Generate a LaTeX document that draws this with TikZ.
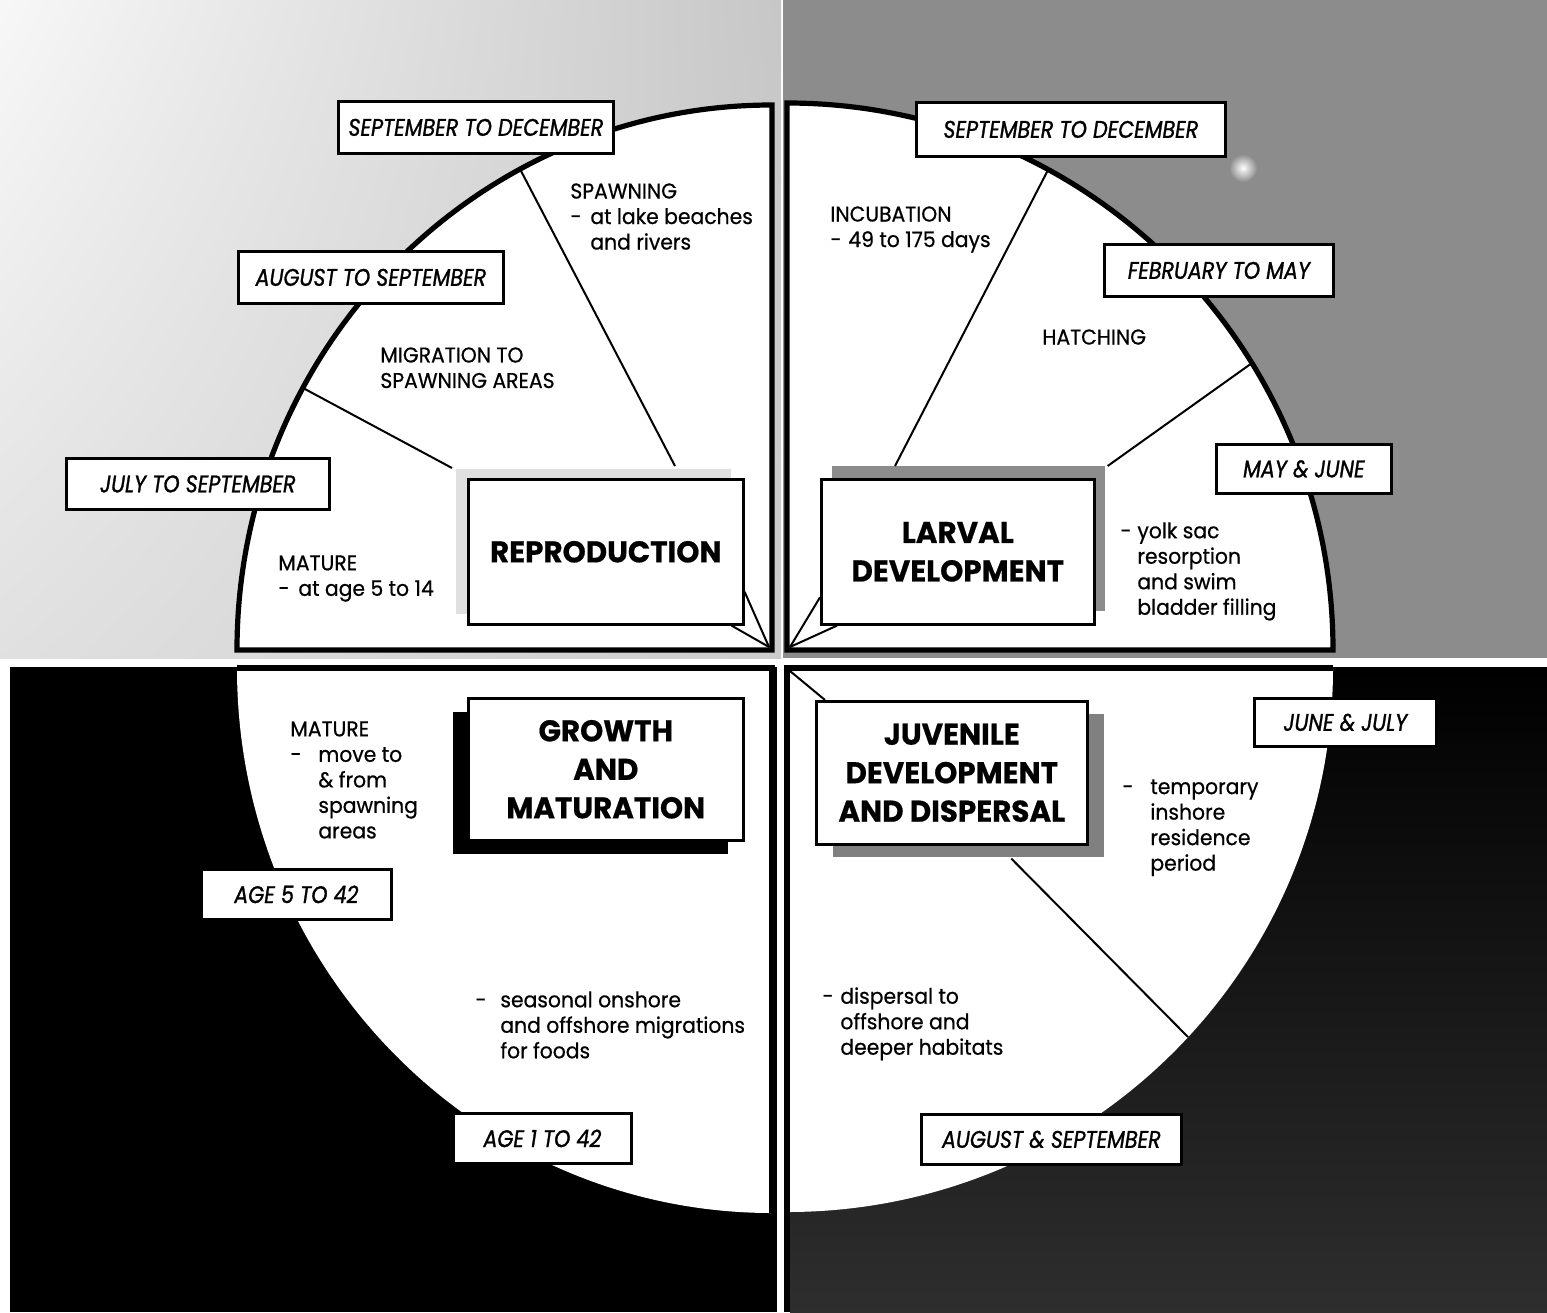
\documentclass[tikz,border=0pt]{standalone}
\usepackage{fontspec}
\setmainfont{Poppins}[FakeStretch=0.95, FakeBold=0.6]
\newfontfamily\datefont{Poppins}[FakeStretch=0.86, FakeBold=1.2]
\newfontfamily\ttlfont{Poppins}[FakeStretch=0.98, FakeBold=0.6]
\usetikzlibrary{shadows,shadings}
\newcommand\dsh[1]{\makebox[#1][l]{-}}

\begin{document}
\begin{tikzpicture}[x=0.5pt, y=-0.5pt,
  quad/.style={fill=white, draw=black, line width=2.6pt},
  edge/.style={line width=2.6pt},
  datebox/.style={draw, fill=white, line width=1.4pt, anchor=north west, inner sep=0pt,
    font=\datefont\itshape\fontsize{12}{14}\selectfont},
  titlebox/.style={draw, fill=white, line width=1.3pt, anchor=north west, inner sep=0pt,
    align=center, font=\ttlfont\bfseries\fontsize{15}{19.25}\selectfont},
  note/.style={anchor=north west, inner sep=0pt, align=left,
    font=\fontsize{10.7}{12.75}\selectfont},
  divider/.style={line width=1pt}]
  \useasboundingbox (0,0) rectangle (1547,1312);
  \shade[upper left=black!3, upper right=black!22, lower left=black!12, lower right=black!20]
    (0,0) rectangle (781,658);
  \fill[black!45] (783,0) rectangle (1547,658);
  \shade[inner color=white, outer color=black!45] (1243,168) circle (7pt);
  \fill[black] (10,667) rectangle (777,1312);
  \shade[top color=black, middle color=black!97, bottom color=black!82] (790,667) rectangle (1547,1312);

  \draw[quad] (772,650) -- (237,650) arc[start angle=180, end angle=90, x radius=267.5pt, y radius=272.5pt] -- cycle;
  \draw[quad] (787,650) -- (787,103) arc[start angle=90, end angle=0, x radius=273pt, y radius=273.5pt] -- cycle;
  \fill[white] (772,668) -- (237,668) arc[start angle=180, end angle=270, x radius=267.5pt, y radius=272.5pt] -- cycle;
  \draw[edge] (237,668) -- (772,668) -- (772,1213);
  \fill[white] (787,668) -- (1333,668) arc[start angle=0, end angle=-90, x radius=273pt, y radius=272pt] -- cycle;
  \draw[edge] (1333,668) -- (787,668) -- (787,1312);

  \node[titlebox, minimum width=137.5pt, minimum height=72.5pt,
    drop shadow={shadow xshift=-6pt, shadow yshift=5pt, fill=black!12, opacity=1}] (rep) at (467,478) {REPRODUCTION};
  \node[titlebox, minimum width=136.5pt, minimum height=72.5pt,
    drop shadow={shadow xshift=5.5pt, shadow yshift=6.5pt, fill=black!45, opacity=1}] (larv) at (820,478) {LARVAL\\DEVELOPMENT};
  \node[titlebox, minimum width=137.5pt, minimum height=71pt,
    drop shadow={shadow xshift=-7.5pt, shadow yshift=-7pt, fill=black, opacity=1}] (grow) at (467,697) {GROWTH\\AND\\MATURATION};
  \node[titlebox, minimum width=135.5pt, minimum height=71.5pt,
    drop shadow={shadow xshift=8.5pt, shadow yshift=-6.5pt, fill=black!50, opacity=1}] (juv) at (815,700) {JUVENILE\\DEVELOPMENT\\AND DISPERSAL};

  \node[datebox, minimum width=137.5pt, minimum height=26pt] (tlsep) at (337,100) {SEPTEMBER TO DECEMBER};
  \node[datebox, minimum width=132.5pt, minimum height=26pt] (tlaug) at (237,250) {AUGUST TO SEPTEMBER};
  \node[datebox, minimum width=131.5pt, minimum height=25.5pt] (tljul) at (65,457) {JULY TO SEPTEMBER};
  \node[datebox, minimum width=154.5pt, minimum height=27pt] (trsep) at (915,101) {SEPTEMBER TO DECEMBER};
  \node[datebox, minimum width=114.5pt, minimum height=26pt] (trfeb) at (1103,243) {FEBRUARY TO MAY};
  \node[datebox, minimum width=87.5pt, minimum height=24.5pt] (trmay) at (1215,443) {MAY \& JUNE};
  \node[datebox, minimum width=95pt, minimum height=25pt] (blage5) at (200,868) {AGE 5 TO 42};
  \node[datebox, minimum width=89pt, minimum height=25pt] (blage1) at (452,1112) {AGE 1 TO 42};
  \node[datebox, minimum width=91pt, minimum height=24pt] (brjun) at (1253,697) {JUNE \& JULY};
  \node[datebox, minimum width=130pt, minimum height=25pt] (braug) at (920,1113) {AUGUST \& SEPTEMBER};

  \node[note] (spawn) at (570,183) {SPAWNING\\ \dsh{10pt}at lake beaches\\ \hspace*{10pt}and rivers};
  \node[note] (migr) at (380,347) {MIGRATION TO\\ SPAWNING AREAS};
  \node[note] (mattl) at (278,555) {MATURE\\ \dsh{10pt}at age 5 to 14};
  \node[note] (incub) at (830,206) {INCUBATION\\ \dsh{9pt}49 to 175 days};
  \node[note] (hatch) at (1042,329) {HATCHING};
  \node[note] (yolk) at (1120,522) {\dsh{8.5pt}yolk sac\\ \hspace*{8.5pt}resorption\\ \hspace*{8.5pt}and swim\\ \hspace*{8.5pt}bladder filling};
  \node[note] (matbl) at (290,721) {MATURE\\ \dsh{14pt}move to\\ \hspace*{14pt}\& from\\ \hspace*{14pt}spawning\\ \hspace*{14pt}areas};
  \node[note] (seas) at (475,991) {\dsh{12.5pt}seasonal onshore\\ \hspace*{12.5pt}and offshore migrations\\ \hspace*{12.5pt}for foods};
  \node[note] (temp) at (1122,779) {\dsh{14pt}temporary\\ \hspace*{14pt}inshore\\ \hspace*{14pt}residence\\ \hspace*{14pt}period};
  \node[note] (disp) at (822,987) {\dsh{9pt}dispersal to\\ \hspace*{9pt}offshore and\\ \hspace*{9pt}deeper habitats};

  \coordinate (tlc) at (769,647);
  \coordinate (trc) at (790,647);
  \coordinate (brc) at (790,671);
  \coordinate (a1) at (520,169);
  \coordinate (a2) at (303,388);
  \coordinate (a3) at (1048,170);
  \coordinate (a4) at (1252,363);
  \coordinate (a5) at (1188,1037);

  \draw[divider] (a1) -- ([xshift=104pt,yshift=6pt]rep.north west);
  \draw[divider] (a2) -- ([xshift=-7.5pt,yshift=5pt]rep.north west);
  \draw[divider] ([yshift=-20pt]rep.east) -- (tlc);
  \draw[divider] ([xshift=-6.5pt]rep.south east) -- (tlc);
  \draw[divider] (a3) -- ([xshift=37.5pt,yshift=6pt]larv.north west);
  \draw[divider] (a4) -- ([xshift=6pt,yshift=6pt]larv.north east);
  \draw[divider] ([yshift=-22.75pt]larv.west) -- (trc);
  \draw[divider] ([xshift=8.5pt]larv.south west) -- (trc);
  \draw[divider] (brc) -- ([xshift=5pt]juv.north west);
  \draw[divider] ([xshift=29.75pt,yshift=-6.5pt]juv.south) -- (a5);
\end{tikzpicture}
\end{document}
